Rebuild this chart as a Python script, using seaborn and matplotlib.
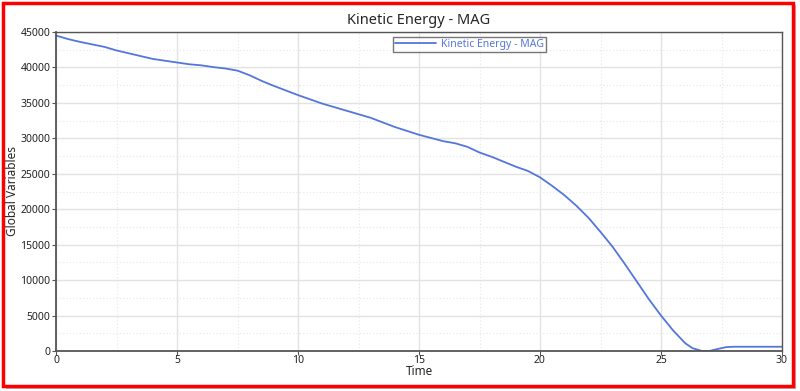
import pandas as pd
import matplotlib.pyplot as plt
import seaborn as sns
from matplotlib.patches import Rectangle
from matplotlib.ticker import MultipleLocator

# values
time = [0, 0.5, 1, 1.5, 2, 2.5, 3, 3.5, 4, 4.5, 5, 5.5, 6, 6.5, 7, 7.5,
        8, 8.5, 9, 9.5, 10, 11, 12, 13, 14, 15, 16, 16.5, 17, 17.5, 18,
        19, 19.5, 20, 20.5, 21, 21.5, 22, 22.5, 23, 23.5, 24, 24.5, 25,
        25.5, 26, 26.3, 26.7, 27, 27.3, 27.7, 28, 29, 30]
kinetic = [44500, 44000, 43600, 43250, 42900, 42400, 42000, 41600, 41200,
           40950, 40700, 40450, 40300, 40050, 39850, 39550, 38900, 38100,
           37400, 36750, 36100, 34900, 33900, 32900, 31600, 30500, 29600,
           29300, 28800, 28000, 27400, 26000, 25400, 24500, 23300, 22000,
           20500, 18800, 16800, 14700, 12300, 9800, 7300, 5000, 2900,
           1100, 400, 0, 0, 250, 550, 600, 600, 600]

df = pd.DataFrame({"Time": time, "Kinetic Energy - MAG": kinetic})

sns.set_style("white")
plt.rcParams['font.family'] = ['Noto Sans', 'DejaVu Sans']

fig = plt.figure(figsize=(8, 3.91), dpi=100)
ax = fig.add_axes([56 / 800, 40 / 391, 726 / 800, 319 / 391])

sns.lineplot(data=df, x="Time", y="Kinetic Energy - MAG", ax=ax,
             color="#5476dc", linewidth=1.3, label="Kinetic Energy - MAG")

ax.set_xlim(0, 30)
ax.set_ylim(0, 45000)
ax.xaxis.set_major_locator(MultipleLocator(5))
ax.xaxis.set_minor_locator(MultipleLocator(2.5))
ax.yaxis.set_major_locator(MultipleLocator(5000))
ax.yaxis.set_minor_locator(MultipleLocator(2500))
ax.grid(which="major", color="#e2e2e2", linewidth=1.0)
ax.grid(which="minor", color="#e6e6e6", linewidth=0.8, linestyle=(0, (1, 2)))
ax.set_axisbelow(True)

for s in ax.spines.values():
    s.set_color("#555555")
    s.set_linewidth(1.0)
ax.spines["left"].set_linewidth(1.3)
ax.spines["bottom"].set_linewidth(1.3)

ax.tick_params(axis="both", which="major", length=3, width=0.8, color="#555555",
               labelsize=7.5, pad=1, bottom=True, left=True,
               labelcolor="#222222")
ax.tick_params(axis="x", pad=0)
ax.tick_params(which="minor", length=0)

ax.set_xlabel("Time", fontsize=8.5, labelpad=-1)
ax.set_ylabel("Global Variables", fontsize=8.5)
ax.yaxis.set_label_coords(-37 / 726, 0.5)
ax.set_title("Kinetic Energy - MAG", fontsize=10.5, pad=6)

leg = ax.legend(loc="upper center", bbox_to_anchor=(0.569, 0.985), fontsize=7.5,
                frameon=True, fancybox=False, handlelength=4.0,
                borderpad=0.2, handletextpad=0.4, borderaxespad=0)
leg.get_frame().set_edgecolor("#555555")
leg.get_frame().set_linewidth(1.0)
for t in leg.get_texts():
    t.set_color("#5476dc")

# shadow and red border around the figure
fig.patches.append(Rectangle((6 / 800, 2 / 391), 790 / 800, 384 / 391,
                             transform=fig.transFigure, facecolor="#b8b8b8",
                             edgecolor="none", zorder=-2))
fig.patches.append(Rectangle((3 / 800, 5 / 391), 790 / 800, 383 / 391,
                             transform=fig.transFigure, facecolor="white",
                             edgecolor="#ff0000", linewidth=2.5, zorder=-1))

fig.savefig("out.png", dpi=100)
